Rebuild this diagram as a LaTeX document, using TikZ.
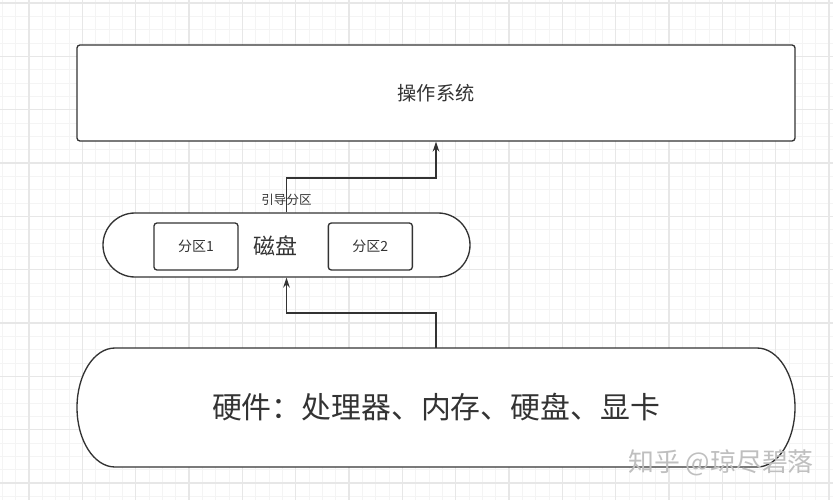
\documentclass[tikz,border=0pt]{standalone}
\usepackage{fontspec}
\setmainfont{Noto Sans CJK SC}
\usetikzlibrary{arrows.meta,positioning}
\definecolor{ink}{RGB}{51,51,51}
\definecolor{gridminor}{RGB}{244,244,244}
\definecolor{gridmajor}{RGB}{231,231,231}

\begin{document}
\begin{tikzpicture}[x=0.75pt,y=-0.75pt,
    box/.style={draw=ink,line width=1pt,fill=white,rounded corners=2.25pt,inner sep=0pt,text=ink},
    part/.style={box,minimum width=63pt,minimum height=35.25pt,font=\fontsize{10.5}{12}\selectfont},
    flow/.style={draw=ink,line width=1pt,-{Stealth[length=7.5pt,width=5pt]}},
    edgelbl/.style={text=ink,font=\fontsize{9.4}{11}\selectfont,inner sep=1pt}]
  \useasboundingbox (0,0) rectangle (833,500);
  \fill[white] (0,0) rectangle (833,500);
  % background grid
  \foreach \i in {0,...,62}
    \draw[gridminor,line width=0.6pt] (2.333+13.333*\i,0) -- (2.333+13.333*\i,500);
  \foreach \j in {0,...,37}
    \draw[gridminor,line width=0.6pt] (0,3+13.333*\j) -- (833,3+13.333*\j);
  \foreach \i in {0,...,15}
    \draw[gridmajor,line width=0.8pt] (29+53.333*\i,0) -- (29+53.333*\i,500);
  \foreach \j in {0,...,9}
    \draw[gridmajor,line width=0.8pt] (0,3+53.333*\j) -- (833,3+53.333*\j);

  \node[box,minimum width=538.5pt,minimum height=72pt,font=\fontsize{14.4}{16}\selectfont] (os) at (436,93) {操作系统};

  \node[box,rounded corners=24pt,minimum width=275.25pt,minimum height=48pt] (disk) at (286.5,245) {};
  \node[text=ink,font=\fontsize{16.5}{18}\selectfont] (disklbl) at (275,246) {磁盘};
  \node[part] (part1) at (196,246.5) {分区1};
  \node[part,right=66.75pt of part1] (part2) {分区2};

  % hardware outline, elliptic ends
  \coordinate (hwc) at (436,407.5);
  \filldraw[fill=white,draw=ink,line width=1pt]
    ([shift={(-321,-59.5)}]hwc) -- ([shift={(321,-59.5)}]hwc)
    arc[start angle=90,end angle=-90,x radius=28.5pt,y radius=44.625pt]
    -- ([shift={(-321,59.5)}]hwc)
    arc[start angle=-90,end angle=-270,x radius=28.5pt,y radius=44.625pt] -- cycle;
  \node[minimum width=538.5pt,minimum height=89.25pt,inner sep=0pt,text=ink,
    font=\fontsize{22.4}{26}\selectfont] (hw) at (hwc) {\raisebox{-2pt}{硬件：处理器、内存、硬盘、显卡}};

  \coordinate (bootbend) at (436,178);
  \coordinate (hwbend) at (286.5,313);
  \path[flow] (disk.north) |- node[edgelbl,pos=0.18] {引导分区} (bootbend) -- (os.south);
  \path[flow] (hw.north) |- (hwbend) -- (disk.south);

  \node[text=gray!50,font=\fontsize{19.4}{21}\selectfont] (mark) at (721,463) {知乎 @琼尽碧落};
\end{tikzpicture}
\end{document}
